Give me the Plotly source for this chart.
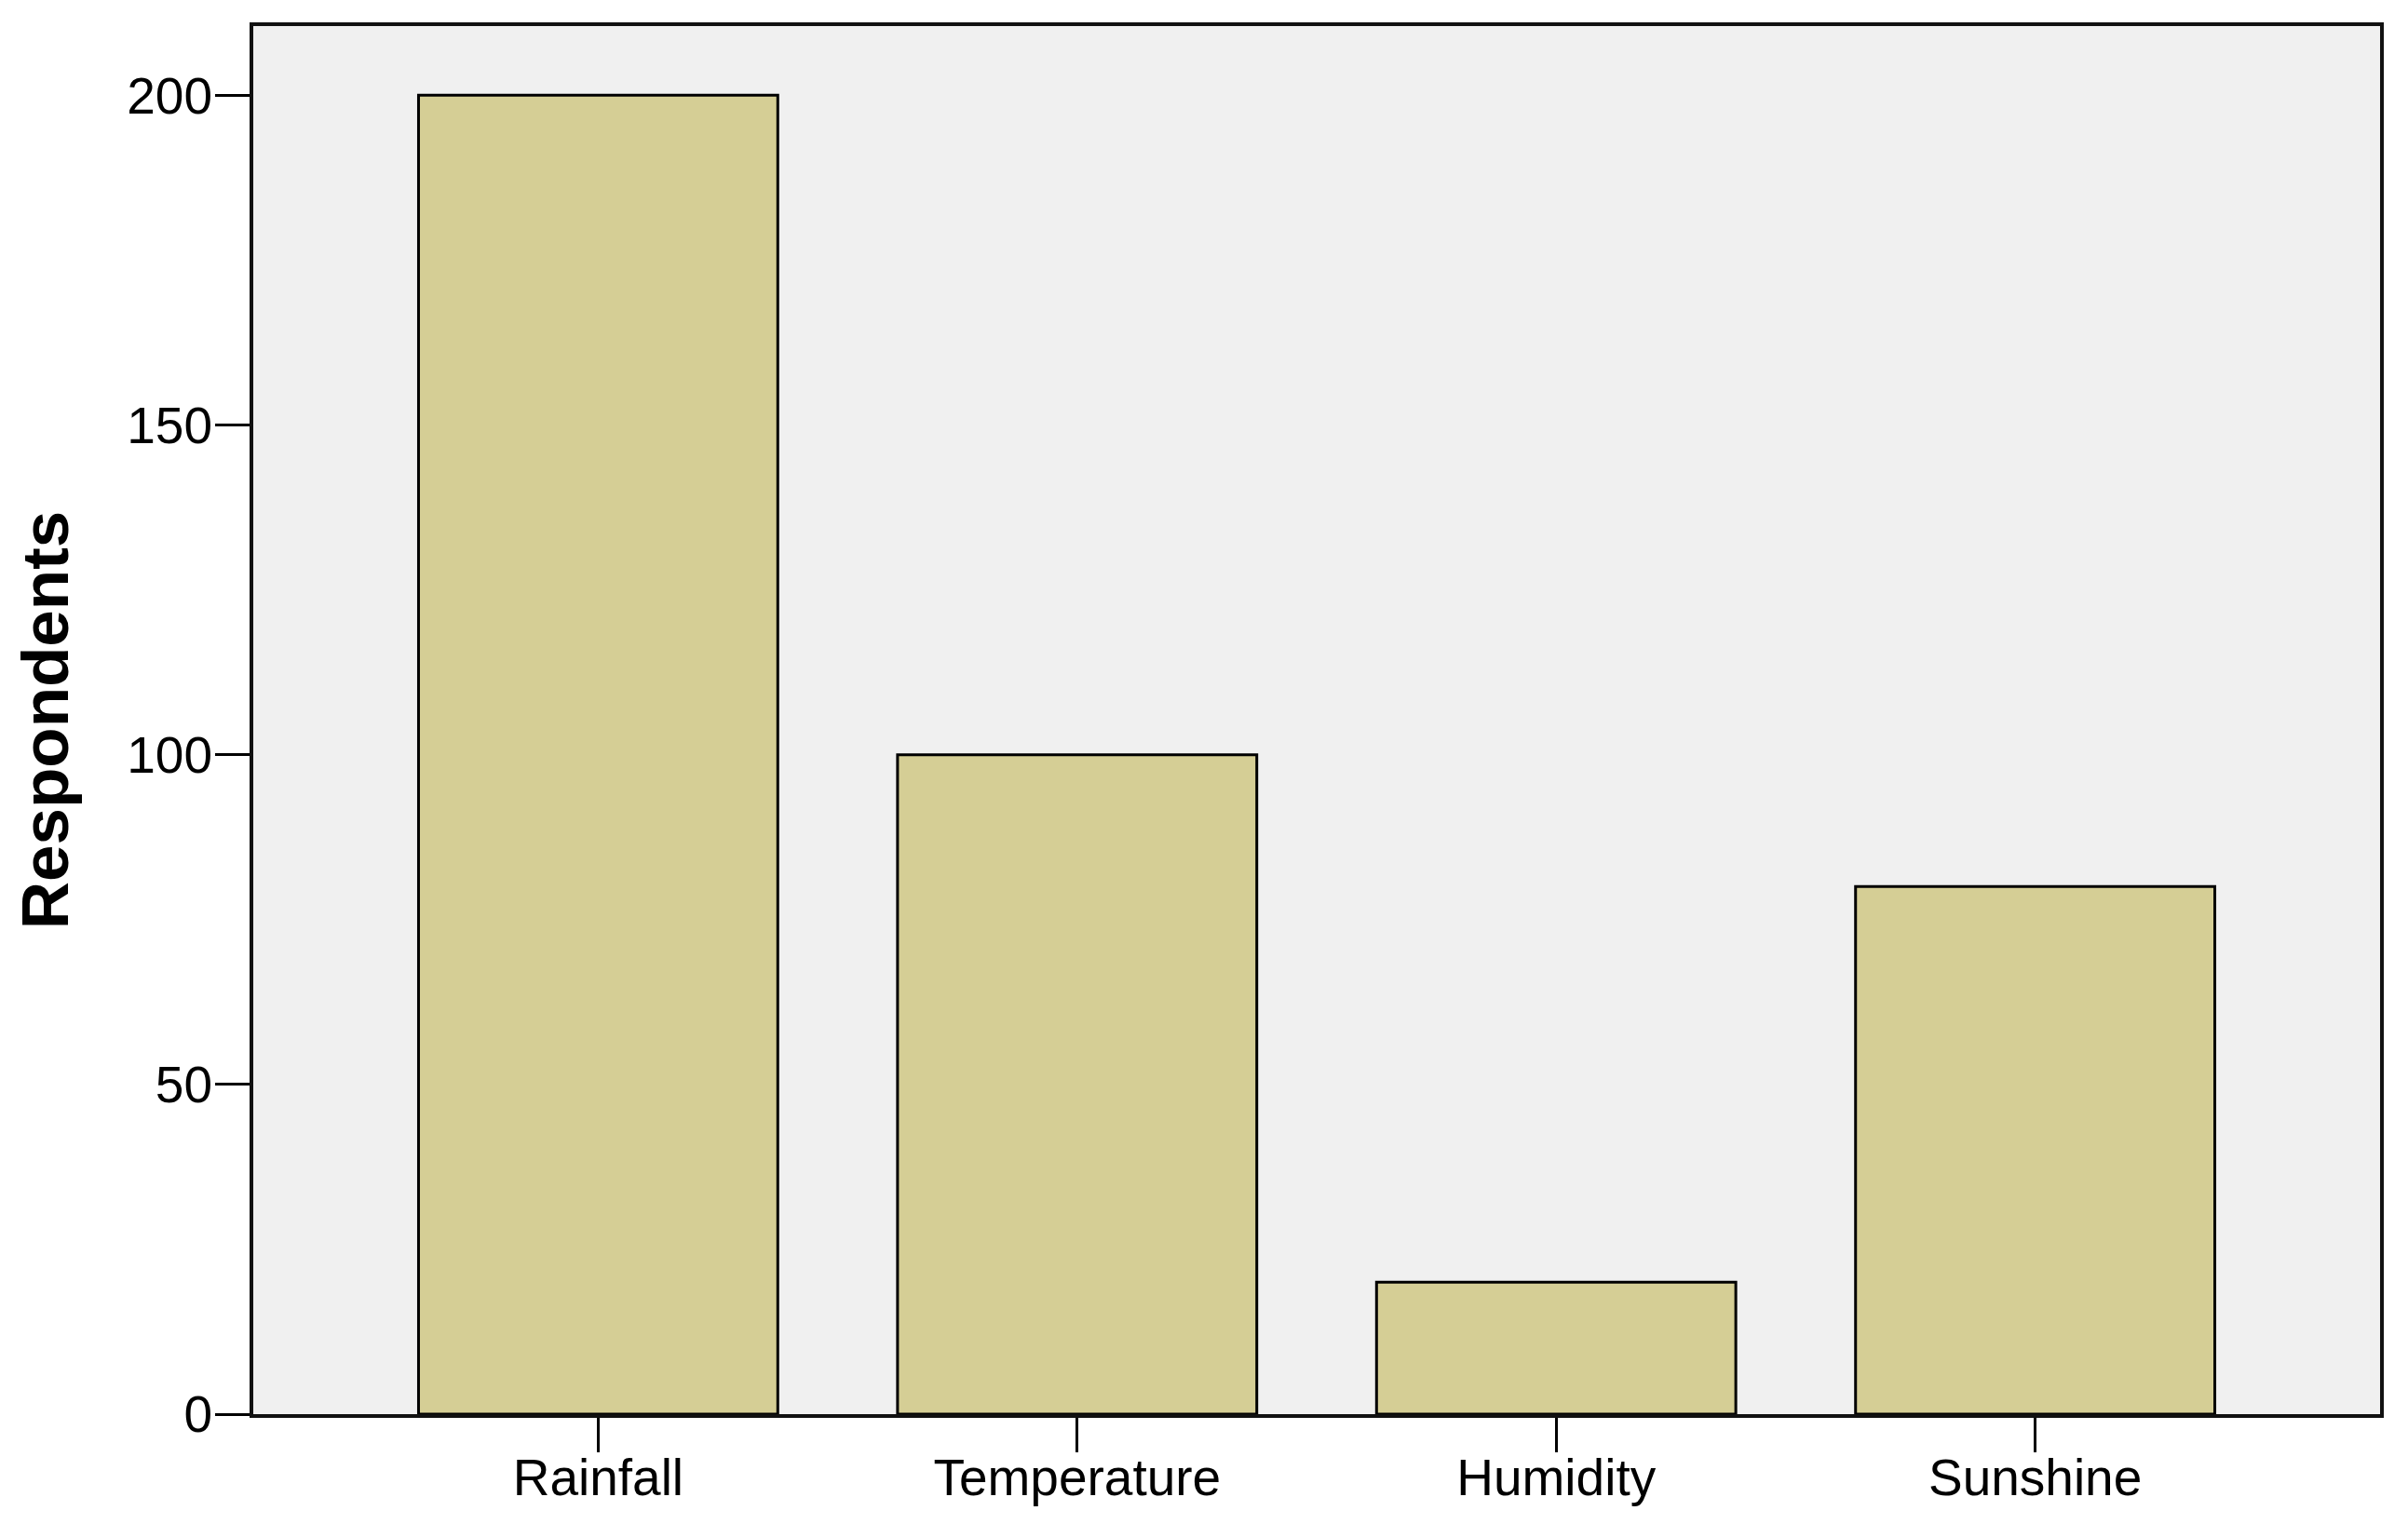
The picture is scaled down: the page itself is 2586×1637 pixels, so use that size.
import plotly.graph_objects as go

categories = ["Rainfall", "Temperature", "Humidity", "Sunshine"]
respondents = [200, 100, 20, 80]
y_ticks = [0, 50, 100, 150, 200]

fig = go.Figure(
    go.Bar(
        x=categories,
        y=respondents,
        marker=dict(color="#D5CE95", line=dict(color="#000000", width=3)),
        width=0.75,
    )
)

# page body has an 8px default margin on every side; keep the figure inside the window
fig.update_layout(
    width=2570,
    height=1621,
    margin=dict(l=264, r=22, t=20, b=110),
    paper_bgcolor="white",
    plot_bgcolor="#F0F0F0",
    font=dict(family="Liberation Sans, Arial, sans-serif", color="#000000", size=55),
    showlegend=False,
)

fig.update_xaxes(
    type="category",
    range=[-0.72, 3.72],
    showline=True,
    linecolor="#111111",
    linewidth=4,
    mirror=True,
    ticks="outside",
    ticklen=37,
    tickwidth=3,
    tickcolor="#000000",
    tickfont=dict(size=55),
    ticklabelstandoff=-20,
    automargin=False,
    showgrid=False,
    zeroline=False,
)

fig.update_yaxes(
    range=[0, 210.5],
    tickvals=y_ticks,
    showline=True,
    linecolor="#111111",
    linewidth=4,
    mirror=True,
    ticks="outside",
    ticklen=37,
    tickwidth=3,
    tickcolor="#000000",
    tickfont=dict(size=55),
    ticklabelstandoff=-8,
    automargin=False,
    showgrid=False,
    zeroline=False,
    title=dict(
        text="<b>Respondents</b>",
        font=dict(size=71, family="Liberation Sans, Arial, sans-serif"),
        standoff=40,
    ),
)

fig.write_html("out.html")
